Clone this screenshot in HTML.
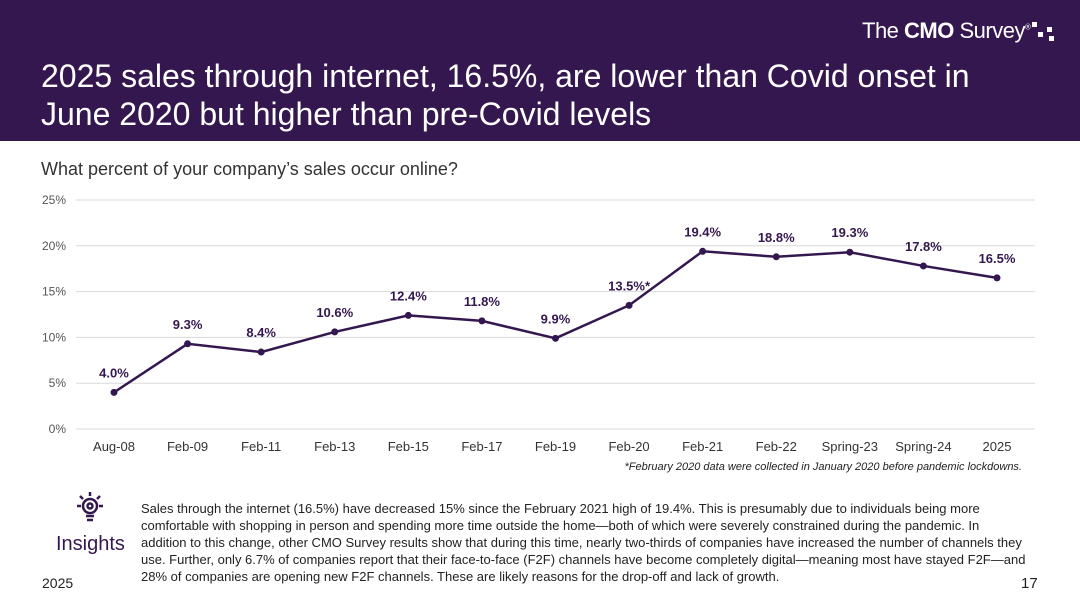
<!DOCTYPE html>
<html><head><meta charset="utf-8"><style>
body{margin:0;width:1080px;height:608px;overflow:hidden;background:#fff;font-family:"Liberation Sans","Noto Sans CJK SC",sans-serif;position:relative}
.hdr{position:absolute;left:0;top:0;width:1080px;height:141px;background:#35174f}
.title{position:absolute;left:41px;top:57px;color:#fff;font-size:32px;line-height:38px;white-space:nowrap}
.logo{position:absolute;left:862px;top:18px;color:#fff;font-size:22px;letter-spacing:-0.5px}
.q{position:absolute;left:41px;top:159px;font-size:18px;color:#333}
.note{position:absolute;right:58px;top:461px;font-size:11px;font-style:italic;color:#222}
.body{position:absolute;left:141px;top:500px;width:885px;font-size:13px;line-height:17px;color:#222}
.ins{position:absolute;left:56px;top:533px;font-size:20px;color:#35174f}
.yr{position:absolute;left:42px;top:575px;font-size:14px;color:#222}
.pg{position:absolute;left:1021px;top:575px;font-size:15px;color:#222}
</style></head><body>
<div class="hdr"></div>
<div class="logo">The <b>CMO</b> Survey<sup style="font-size:8px">®</sup></div>
<svg style="position:absolute;left:1030px;top:20px" width="26" height="24"><g fill="#fff"><rect x="2" y="2" width="5" height="5"/><rect x="8" y="12" width="5" height="5"/><rect x="17" y="7" width="5" height="5"/><rect x="19" y="16" width="5" height="5"/></g></svg>
<div class="title">2025 sales through internet, 16.5%, are lower than Covid onset in<br>June 2020 but higher than pre-Covid levels</div>
<div class="q">What percent of your company’s sales occur online?</div>
<svg id="chart" width="1080" height="608" style="position:absolute;left:0;top:0"></svg>
<div class="note">*February 2020 data were collected in January 2020 before pandemic lockdowns.</div>
<svg style="position:absolute;left:72px;top:490px" width="36" height="36"><g stroke="#35174f" stroke-width="2.5" fill="none"><circle cx="18" cy="16" r="7"/><circle cx="18" cy="16" r="2.5"/><line x1="14" y1="26" x2="22" y2="26"/><line x1="15" y1="30" x2="21" y2="30"/><line x1="18" y1="2" x2="18" y2="6"/><line x1="5" y1="16" x2="9" y2="16"/><line x1="27" y1="16" x2="31" y2="16"/><line x1="8" y1="6" x2="11" y2="9"/><line x1="28" y1="6" x2="25" y2="9"/></g></svg>
<div class="ins">Insights</div>
<div class="body">Sales through the internet (16.5%) have decreased 15% since the February 2021 high of 19.4%. This is presumably due to individuals being more comfortable with shopping in person and spending more time outside the home—both of which were severely constrained during the pandemic. In addition to this change, other CMO Survey results show that during this time, nearly two-thirds of companies have increased the number of channels they use. Further, only 6.7% of companies report that their face-to-face (F2F) channels have become completely digital—meaning most have stayed F2F—and 28% of companies are opening new F2F channels. These are likely reasons for the drop-off and lack of growth.</div>
<div class="yr">2025</div>
<div class="pg">17</div>
<script>
const categories=["Aug-08","Feb-09","Feb-11","Feb-13","Feb-15","Feb-17","Feb-19","Feb-20","Feb-21","Feb-22","Spring-23","Spring-24","2025"];
const values=[4.0,9.3,8.4,10.6,12.4,11.8,9.9,13.5,19.4,18.8,19.3,17.8,16.5];
const valueLabels=["4.0%","9.3%","8.4%","10.6%","12.4%","11.8%","9.9%","13.5%*","19.4%","18.8%","19.3%","17.8%","16.5%"];
const yTicks=[0,5,10,15,20,25];
const svg=document.getElementById('chart');const NS='http://www.w3.org/2000/svg';
const x=i=>114+i*(997-114)/(categories.length-1);
const y=v=>429-v*(429-200)/25;
function mk(t,a,txt){const e=document.createElementNS(NS,t);for(const k in a)e.setAttribute(k,a[k]);if(txt!=null)e.textContent=txt;svg.appendChild(e);return e;}
yTicks.forEach(t=>{
 const g=mk('line',{x1:76,x2:1035,y1:y(t),y2:y(t),stroke:'#d9d9d9','stroke-width':1});
 
 
 const l=mk('text',{x:66,y:y(t)+4,'text-anchor':'end','font-size':12,fill:'#555'},t+'%');
 
 
});
categories.forEach((c,i)=>{
 const l=mk('text',{x:x(i),y:451,'text-anchor':'middle','font-size':13,fill:'#333'},c);
 
 
});
const p=mk('polyline',{points:values.map((v,i)=>x(i)+','+y(v)).join(' '),fill:'none',stroke:'#35174f','stroke-width':2.5});


values.forEach((v,i)=>{
 const d=mk('circle',{cx:x(i),cy:y(v),r:3.5,fill:'#35174f'});
 
 
 const l=mk('text',{x:x(i),y:y(v)-15,'text-anchor':'middle','font-size':13,'font-weight':'bold',fill:'#35174f'},valueLabels[i]);
 
 
});
</script>
</body></html>
